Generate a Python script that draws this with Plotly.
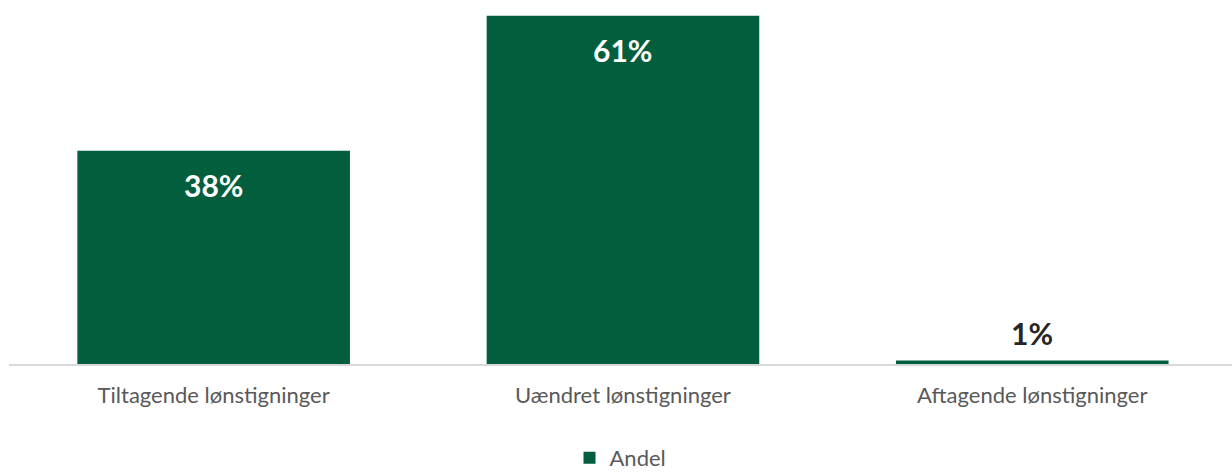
import plotly.graph_objects as go

categories = ["Tiltagende lønstigninger", "Uændret lønstigninger", "Aftagende lønstigninger"]
values = [37.6, 61.4, 0.6]
series_name = "Andel"

GREEN = "#035E3D"
FONT = "Lato"

fig = go.Figure()
fig.add_trace(go.Bar(
    x=categories, y=values, name=series_name,
    marker=dict(color=GREEN, line=dict(width=0)),
    showlegend=True,
))

for c, v in zip(categories, values):
    inside = v > 5
    fig.add_annotation(
        x=c, y=v, text=f"<b>{round(v):d}%</b>", showarrow=False,
        yshift=-34 if inside else 28,
        font=dict(family=FONT, size=30, color="white" if inside else "#262626"),
    )

fig.update_layout(
    width=1232, height=472,
    margin=dict(l=9, r=0, t=10, b=108, autoexpand=False),
    paper_bgcolor="white", plot_bgcolor="white",
    bargap=0.334,
    font=dict(family=FONT, color="#595959"),
    xaxis=dict(showline=True, linecolor="#d9d9d9", linewidth=1.5, ticks="",
               range=[-0.5, 2.488], automargin=False,
               tickfont=dict(size=22, color="#595959"), ticklabelstandoff=11,
               showgrid=False, fixedrange=True),
    yaxis=dict(range=[0, 62.4], visible=False, showgrid=False, fixedrange=True),
    legend=dict(orientation="h", x=0.5, xanchor="center", y=-0.2655, yanchor="middle",
                font=dict(size=22, color="#595959"), itemwidth=30),
    showlegend=True,
)

fig.write_html(
    "out.html",
    config={"displayModeBar": False},
    post_script="document.body.style.margin='0';document.body.style.overflow='hidden';",
)
